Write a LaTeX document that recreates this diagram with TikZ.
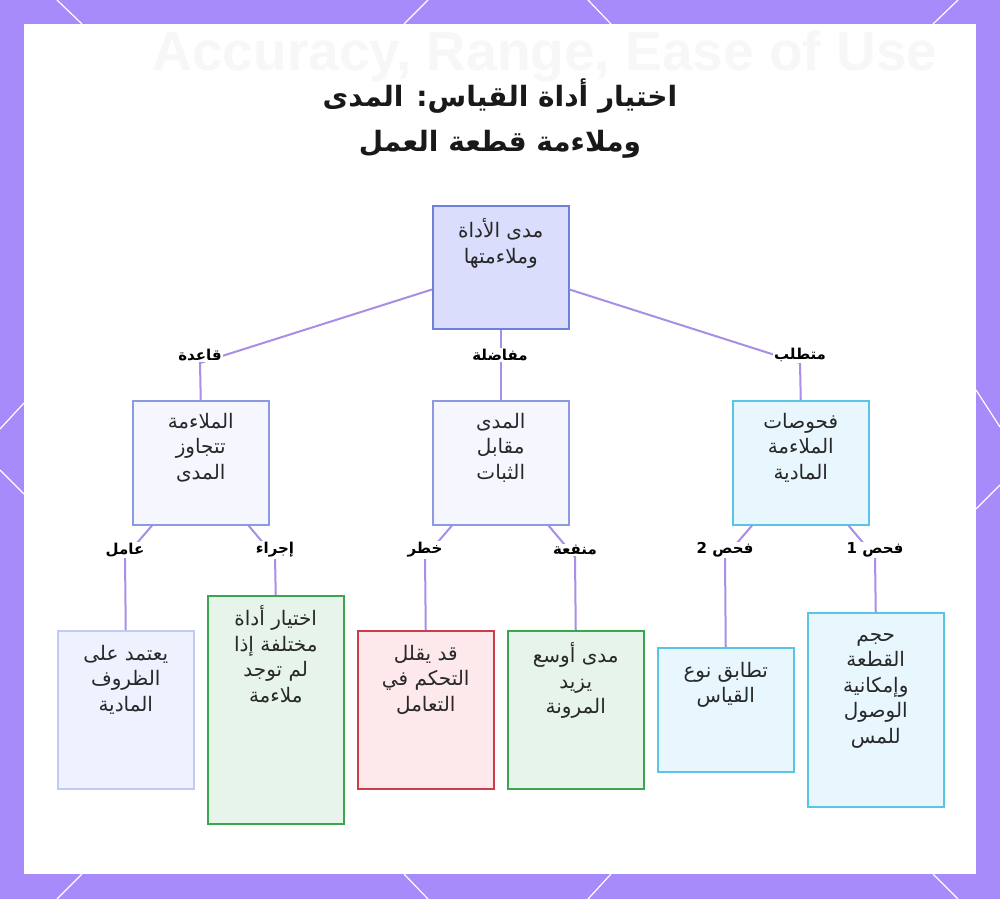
\documentclass[tikz,border=0pt]{standalone}
\usepackage{fontspec}
\usepackage{xcolor}
\usepackage{tikz}
\usetikzlibrary{calc,positioning}
\TeXXeTstate=1
\newfontfamily\arabicfont[Script=Arabic]{DejaVu Sans}
\newfontfamily\fondofont{Liberation Sans}
\newcommand{\artxt}[1]{\strut\beginR #1\endR}
\definecolor{marco}{RGB}{167,139,250}
\definecolor{enlace}{RGB}{168,142,230}
\definecolor{texto}{RGB}{40,40,40}
\definecolor{raizfondo}{RGB}{218,221,251}
\definecolor{raizborde}{RGB}{110,128,215}
\definecolor{palfondo}{RGB}{246,247,254}
\definecolor{palborde}{RGB}{140,155,225}
\definecolor{cianfondo}{RGB}{232,246,253}
\definecolor{cianborde}{RGB}{90,196,228}
\definecolor{suavefondo}{RGB}{238,241,254}
\definecolor{suaveborde}{RGB}{195,203,245}
\definecolor{verdefondo}{RGB}{231,244,233}
\definecolor{verdeborde}{RGB}{60,165,80}
\definecolor{rojofondo}{RGB}{253,232,235}
\definecolor{rojoborde}{RGB}{205,60,75}
\tikzset{
  caja/.style={line width=1.5pt,minimum width=136pt,anchor=north west,inner sep=0pt},
  raiz/.style={caja,fill=raizfondo,draw=raizborde},
  palida/.style={caja,fill=palfondo,draw=palborde},
  cian/.style={caja,fill=cianfondo,draw=cianborde},
  suave/.style={caja,fill=suavefondo,draw=suaveborde},
  verde/.style={caja,fill=verdefondo,draw=verdeborde},
  rojo/.style={caja,fill=rojofondo,draw=rojoborde},
  txt/.style={anchor=north,align=center,text=texto,font=\arabicfont\fontsize{20}{25.5}\selectfont},
  etq/.style={fill=white,inner sep=1pt,text=black,font=\arabicfont\bfseries\fontsize{15}{15}\selectfont},
  enl/.style={enlace,line width=2pt},
  hex/.style={white,line width=1.2pt}
}
\begin{document}
\begin{tikzpicture}[x=1pt,y=-1pt]
\useasboundingbox (0,0) rectangle (1000,899);
\fill[marco] (0,0) rectangle (1000,899);
\foreach \a/\b/\c/\d in {57/0/82/24,428/0/404/24,588/0/611/24,958/0/933/24,
  82/874/57/899,404/874/428/899,611/874/588/899,933/874/958/899,
  0/429/24/403,0/470/24/494,976/390/1000/427,976/509/1000/485}{
  \draw[hex] (\a,\b)--(\c,\d);}
\fill[white] (24,24) rectangle (976,874);
\node[text=black!3,font=\fondofont\bfseries\fontsize{55}{55}\selectfont] (fondo) at (545,56) {Accuracy, Range, Ease of Use};
\node[align=center,text=black!90,font=\arabicfont\bfseries\fontsize{28}{45}\selectfont] (titulo) at (500,119)
  {\beginR اختيار أداة القياس: المدى\endR\\\beginR وملاءمة قطعة العمل\endR};

\node[raiz,minimum height=123pt] (n0) at (432,205) {};
\node[palida,minimum height=124pt] (n1) at (132,400) {};
\node[palida,minimum height=124pt] (n2) at (432,400) {};
\node[cian,minimum height=124pt] (n3) at (732,400) {};
\node[suave,minimum height=158pt] (n4) at (57,630) {};
\node[verde,minimum height=228pt] (n5) at (207,595) {};
\node[rojo,minimum height=158pt] (n6) at (357,630) {};
\node[verde,minimum height=158pt] (n7) at (507,630) {};
\node[cian,minimum height=124pt] (n8) at (657,647) {};
\node[cian,minimum height=194pt] (n9) at (807,612) {};

\node[txt] (t0) at ([yshift=-10pt]n0.north) {\artxt{مدى الأداة}\\\artxt{وملاءمتها}};
\node[txt] (t1) at ([yshift=-7pt]n1.north) {\artxt{الملاءمة}\\\artxt{تتجاوز}\\\artxt{المدى}};
\node[txt] (t2) at ([yshift=-7pt]n2.north) {\artxt{المدى}\\\artxt{مقابل}\\\artxt{الثبات}};
\node[txt] (t3) at ([yshift=-7pt]n3.north) {\artxt{فحوصات}\\\artxt{الملاءمة}\\\artxt{المادية}};
\node[txt] (t4) at ([yshift=-9pt]n4.north) {\artxt{يعتمد على}\\\artxt{الظروف}\\\artxt{المادية}};
\node[txt] (t5) at ([yshift=-7pt]n5.north) {\artxt{اختيار أداة}\\\artxt{مختلفة إذا}\\\artxt{لم توجد}\\\artxt{ملاءمة}};
\node[txt] (t6) at ([yshift=-9pt]n6.north) {\artxt{قد يقلل}\\\artxt{التحكم في}\\\artxt{التعامل}};
\node[txt] (t7) at ([yshift=-9pt]n7.north) {\artxt{مدى أوسع}\\\artxt{يزيد}\\\artxt{المرونة}};
\node[txt] (t8) at ([yshift=-9pt]n8.north) {\artxt{تطابق نوع}\\\artxt{القياس}};
\node[txt] (t9) at ([yshift=-8pt]n9.north) {\artxt{حجم}\\\artxt{القطعة}\\\artxt{وإمكانية}\\\artxt{الوصول}\\\artxt{للمس}};

\coordinate (c1) at (200,363);
\coordinate (c3) at (800,363);
\coordinate (c4) at (125,557);
\coordinate (c5) at (275,557);
\coordinate (c6) at (425,557);
\coordinate (c7) at (575,557);
\coordinate (c8) at (725,557);
\coordinate (c9) at (875,557);
\draw[enl] ([yshift=40pt]n0.south west) -- (c1) -- (n1.north);
\draw[enl] (n0.south) -- (n2.north);
\draw[enl] ([yshift=40pt]n0.south east) -- (c3) -- (n3.north);
\draw[enl] ([xshift=20pt]n1.south west) -- (c4) -- (n4.north);
\draw[enl] ([xshift=-21pt]n1.south east) -- (c5) -- (n5.north);
\draw[enl] ([xshift=20pt]n2.south west) -- (c6) -- (n6.north);
\draw[enl] ([xshift=-21pt]n2.south east) -- (c7) -- (n7.north);
\draw[enl] ([xshift=20pt]n3.south west) -- (c8) -- (n8.north);
\draw[enl] ([xshift=-21pt]n3.south east) -- (c9) -- (n9.north);

\node[etq] (e1) at (200,355) {\beginR قاعدة\endR};
\node[etq] (e2) at (500,355) {\beginR مفاضلة\endR};
\node[etq] (e3) at (800,355) {\beginR متطلب\endR};
\node[etq] (e4) at (125,550) {\beginR عامل\endR};
\node[etq] (e5) at (275,550) {\beginR إجراء\endR};
\node[etq] (e6) at (425,550) {\beginR خطر\endR};
\node[etq] (e7) at (575,550) {\beginR منفعة\endR};
\node[etq] (e8) at (725,550) {\beginR فحص 2\endR};
\node[etq] (e9) at (875,550) {\beginR فحص 1\endR};
\end{tikzpicture}
\end{document}
